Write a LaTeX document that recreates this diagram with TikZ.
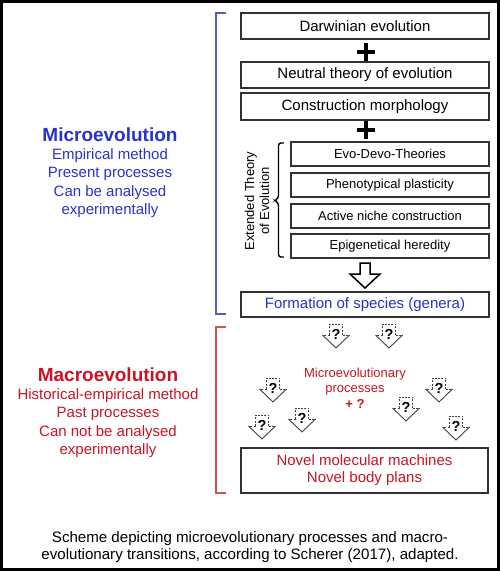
\documentclass[tikz,border=0pt]{standalone}
\usepackage{fontspec}
\setmainfont{Liberation Sans}
\definecolor{mblue}{RGB}{40,50,200}
\definecolor{bblue}{RGB}{85,95,185}
\definecolor{mred}{RGB}{200,20,35}
\definecolor{bred}{RGB}{215,80,80}
\definecolor{boxgray}{RGB}{50,50,50}
\tikzset{
  bigbox/.style={draw=boxgray, line width=1.1pt, minimum width=248pt, minimum height=26pt, inner sep=0pt, font=\fontsize{15}{17}\selectfont},
  smallbox/.style={draw=boxgray, line width=1.1pt, minimum width=198pt, minimum height=24pt, inner sep=0pt, font=\fontsize{13}{15}\selectfont},
  qmark/.style={inner sep=0pt, font=\fontsize{14.5}{16}\selectfont\bfseries},
  qline/.style={draw=black!75, line width=0.9pt, dash pattern=on 2pt off 1.3pt},
  qsolid/.style={draw=black!75, line width=0.9pt},
  plusline/.style={line width=3.4pt},
  bracketline/.style={line width=1.3pt},
  qarrow/.pic={
    \draw[qline] (-6.5,11) -- (-6.5,0) -- (6.5,0) -- (6.5,11);
    \draw[qline] (6.5,11) -- (13.5,11) (-6.5,11) -- (-13.5,11);
    \draw[qsolid] (13.5,11) -- (0,24) -- (-13.5,11);
    \node[qmark] (-q) at (0,10.5) {?};
  }
}
\begin{document}
\begin{tikzpicture}[x=1pt,y=-1pt]
\useasboundingbox (0,0) rectangle (500,571);
\draw[line width=3pt] (1.5,1.5) rectangle (498.5,569.5);

% brackets
\draw[bblue, bracketline] (226,13) -- (216,13) -- (216,314) -- (226,314);
\draw[bred, bracketline] (226,327) -- (216,327) -- (216,493) -- (226,493);

% main boxes
\node[bigbox] (darwin) at (365,26) {Darwinian evolution};
\draw[plusline] (357,52) -- (375,52) (366,43) -- (366,61);
\node[bigbox] (neutral) at (365,75) {Neutral theory of evolution};
\node[bigbox, minimum height=27pt] (constr) at (365,106.5) {Construction morphology};
\draw[plusline] (357,130) -- (375,130) (366,121) -- (366,139);

\node[smallbox] (evo) at (390,154) {Evo-Devo-Theories};
\node[smallbox] (pheno) at (390,185) {Phenotypical plasticity};
\node[smallbox] (niche) at (390,216) {Active niche construction};
\node[smallbox] (epi) at (390,246) {Epigenetical heredity};

\draw[line width=1.4pt, rounded corners=2.5pt] (284,143) -- (278.5,143) -- (278.5,198) -- (274.5,200.5) -- (278.5,203) -- (278.5,257) -- (284,257);
\node[rotate=90, align=center, inner sep=0pt, font=\fontsize{13}{15}\selectfont] (ext) at (257,201) {Extended Theory\\of Evolution};

\draw[line width=1.5pt] (360,263) -- (370,263) -- (370,274) -- (380,274) -- (365,288) -- (350,274) -- (360,274) -- cycle;

\node[bigbox, minimum height=25pt, text=mblue] (form) at (365,304.5) {Formation of species (genera)};

% left texts
\node[text=mblue, font=\fontsize{19}{22}\selectfont\bfseries, inner sep=0pt] (microt) at (110,135) {Microevolution};
\node[text=mblue, font=\fontsize{15}{18.3}\selectfont, align=center, inner sep=0pt] (microb) at (110,183) {Empirical method\\Present processes\\Can be analysed\\experimentally};
\node[text=mred, font=\fontsize{19}{22}\selectfont\bfseries, inner sep=0pt] (macrot) at (108,375) {Macroevolution};
\node[text=mred, font=\fontsize{15}{18.3}\selectfont, align=center, inner sep=0pt] (macrob) at (108,423) {Historical-empirical method\\Past processes\\Can not be analysed\\experimentally};

% question arrows
\pic (qa1) at (336,324) {qarrow};
\pic (qa2) at (389,324) {qarrow};
\pic (qa3) at (273,378) {qarrow};
\pic (qa4) at (439,378) {qarrow};
\pic (qa5) at (406,397) {qarrow};
\pic (qa6) at (302,408) {qarrow};
\pic (qa7) at (262,415) {qarrow};
\pic (qa8) at (456,416) {qarrow};

\node[text=mred, font=\fontsize{13}{15.5}\selectfont, align=center, inner sep=0pt] (mproc) at (355,388) {Microevolutionary\\processes\\\textbf{+ ?}};

\node[bigbox, minimum width=247pt, minimum height=45pt, align=center, text=mred, font=\fontsize{15}{17}\selectfont] (novel) at (364.5,470.5) {Novel molecular machines\\Novel body plans};

\node[font=\fontsize{15.1}{17}\selectfont, align=center, inner sep=0pt] (caption) at (250,547) {Scheme depicting microevolutionary processes and macro-\\evolutionary transitions, according to Scherer (2017), adapted.};
\end{tikzpicture}
\end{document}
